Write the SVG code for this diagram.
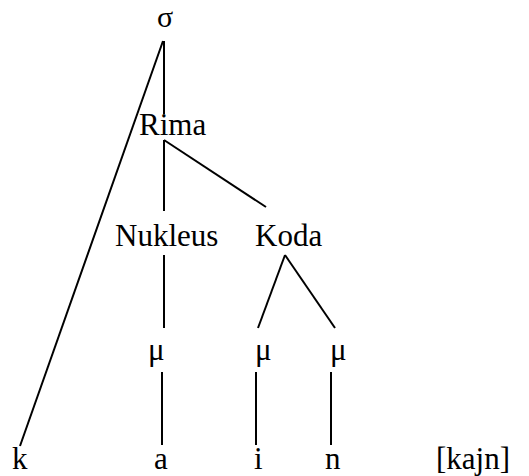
<svg xmlns="http://www.w3.org/2000/svg" width="529" height="476" viewBox="0 0 529 476">
<style>
text{font-family:"Liberation Serif","Times New Roman",serif;font-size:31px;fill:#000}
line{stroke:#000;stroke-width:2}
</style>
<rect width="529" height="476" fill="#fff"/>
<g id="connectors">
<line x1="164" y1="41" x2="164" y2="114"/>
<line x1="163" y1="41" x2="20" y2="446"/>
<line x1="164" y1="140" x2="164" y2="211"/>
<line x1="164" y1="140" x2="266" y2="207"/>
<line x1="164" y1="255" x2="164" y2="328"/>
<line x1="285" y1="255" x2="258" y2="328"/>
<line x1="285" y1="255" x2="335" y2="328"/>
<line x1="162" y1="372" x2="162" y2="445"/>
<line x1="256" y1="372" x2="256" y2="445"/>
<line x1="331" y1="372" x2="331" y2="445"/>
</g>
<g id="sigma"><text x="157" y="27" style="font-size:30px">σ</text></g>
<g id="rima"><text x="139" y="135">Rima</text></g>
<g id="nukleus"><text x="115" y="246">Nukleus</text></g>
<g id="koda"><text x="255" y="246">Koda</text></g>
<g id="mu1"><text x="148" y="360">μ</text></g>
<g id="mu2"><text x="255" y="360">μ</text></g>
<g id="mu3"><text x="330" y="360">μ</text></g>
<g id="k"><text x="12" y="469">k</text></g>
<g id="a"><text x="154" y="469">a</text></g>
<g id="i"><text x="254" y="469">i</text></g>
<g id="n"><text x="325" y="469">n</text></g>
<g id="kajn"><text x="436" y="469">[kajn]</text></g>
</svg>
